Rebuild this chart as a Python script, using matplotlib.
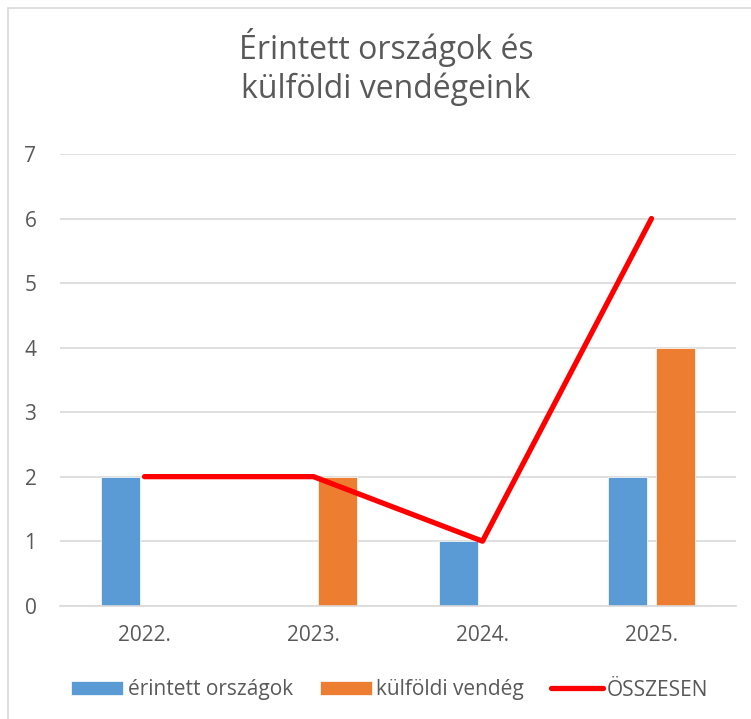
import matplotlib
matplotlib.use("Agg")
import matplotlib.pyplot as plt
from matplotlib.patches import Rectangle
import numpy as np

categories = ["2022.", "2023.", "2024.", "2025."]
erintett = [2, 0, 1, 2]
kulfoldi = [0, 2, 0, 4]
osszesen = [2, 2, 1, 6]
yticks = [0, 1, 2, 3, 4, 5, 6, 7]
title = "Érintett országok és\nkülföldi vendégeink"

plt.rcParams['font.family'] = ['Open Sans', 'DejaVu Sans']
W, H = 751, 719
fig = plt.figure(figsize=(W / 100, H / 100), dpi=100)
fig.patch.set_facecolor("white")

# chart border (left & top visible)
fig.patches.append(Rectangle((8 / W, -0.1), 2, (H - 8) / H + 0.1, transform=fig.transFigure,
                             fill=False, edgecolor="#d9d9d9", linewidth=1.2))

ax = fig.add_axes([60 / W, (H - 605.7) / H, (736 - 60) / W, (605.7 - 154) / H])
x = np.arange(len(categories))
bw = 0.225
off = 0.142
gray = "#595959"
b1 = ax.bar(x - off, erintett, bw, color="#5B9BD5", edgecolor="white", linewidth=0.5,
            label="érintett országok", zorder=2)
b2 = ax.bar(x + off, kulfoldi, bw, color="#ED7D31", edgecolor="white", linewidth=0.5,
            label="külföldi vendég", zorder=2)
ln, = ax.plot(x, osszesen, color="#FF0000", linewidth=3.8, solid_capstyle="round",
              solid_joinstyle="round", label="ÖSSZESEN", zorder=3)

ax.set_xlim(-0.5, len(categories) - 0.5)
ax.set_ylim(0, 7)
ax.set_yticks(yticks)
ax.set_xticks(x)
ax.set_xticklabels(categories)
ax.yaxis.grid(True, color="#d9d9d9", linewidth=1.2, zorder=0)
ax.set_axisbelow(True)
for s in ["top", "right", "left"]:
    ax.spines[s].set_visible(False)
ax.spines["bottom"].set_color("#d9d9d9")
ax.spines["bottom"].set_linewidth(1.2)
ax.tick_params(axis="both", length=0, labelsize=15, colors=gray)
ax.tick_params(axis="y", pad=17)
ax.tick_params(axis="x", pad=14)

fig.text(386 / W, 1 - 67 / H, title, ha="center", va="center", fontsize=23,
         color=gray, linespacing=1.2)

leg = fig.legend(handles=[b1, b2, ln], loc="center", bbox_to_anchor=(390 / W, 1 - 690 / H),
                 ncol=3, frameon=False, fontsize=15, handlelength=2.5, handleheight=0.67,
                 handletextpad=0.2, columnspacing=1.3, labelcolor=gray)

fig.savefig("out.png", dpi=100, facecolor="white")
